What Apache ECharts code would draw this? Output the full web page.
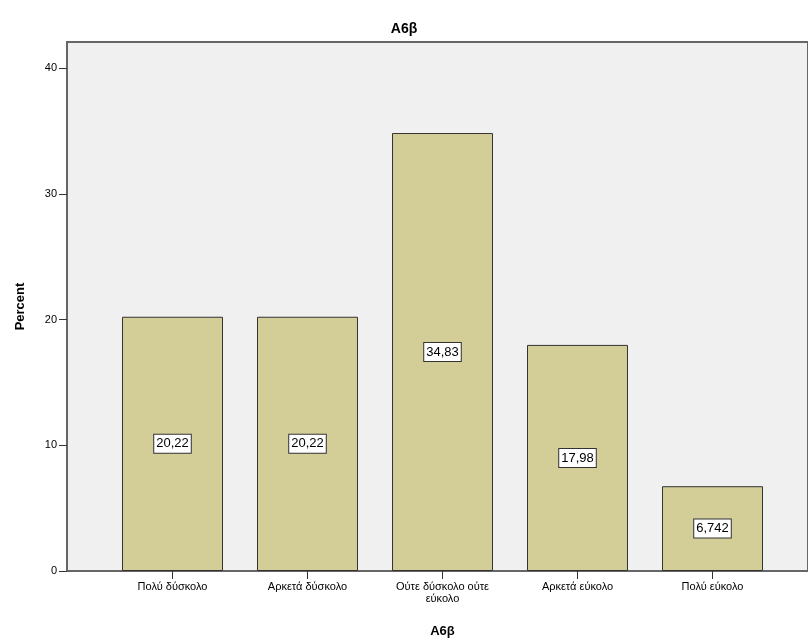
<!DOCTYPE html>
<html><head><meta charset="utf-8">
<script src="https://cdn.jsdelivr.net/npm/echarts@6/dist/echarts.min.js"></script>
<style>html,body{margin:0;padding:0;background:#fff}#c{width:808px;height:644px}</style>
</head><body><div id="c"></div>
<script>
const categories = ['Πολύ δύσκολο', 'Αρκετά δύσκολο', 'Ούτε δύσκολο ούτε\nεύκολο', 'Αρκετά εύκολο', 'Πολύ εύκολο'];
const percents = [20.22, 20.22, 34.83, 17.98, 6.742];
const yTicks = [0, 10, 20, 30, 40];

const FONT = 'Liberation Sans';
const chart = echarts.init(document.getElementById('c'));
const yMax = 42.07;
chart.setOption({
  animation: false,
  textStyle: { fontFamily: FONT },
  title: { text: 'A6β', left: 'center', top: 17, textStyle: { fontFamily: FONT, fontSize: 14, fontWeight: 'bold', color: '#000' } },
  grid: [
    { left: 105, right: 28, top: 42, bottom: 73 },
    { left: 67, right: -2, top: 42, bottom: 73, show: true, backgroundColor: '#f0f0f0', borderColor: '#666', borderWidth: 2, z: 0 }
  ],
  xAxis: [
    { gridIndex: 0, type: 'category', data: categories,
      axisLine: { show: false },
      axisTick: { show: true, alignWithLabel: true, length: 8, lineStyle: { color: '#333', width: 1 } },
      axisLabel: { color: '#000', fontSize: 11, fontFamily: FONT, margin: 10, interval: 0, lineHeight: 12 },
      name: 'A6β', nameLocation: 'middle', nameGap: 54,
      nameTextStyle: { fontFamily: FONT, fontSize: 13, fontWeight: 'bold', color: '#000' } },
    { gridIndex: 1, type: 'value', min: 0, max: 1, show: false }
  ],
  yAxis: [
    { gridIndex: 0, type: 'value', min: 0, max: yMax, show: false },
    { gridIndex: 1, type: 'value', min: 0, max: yMax, interval: 10,
      axisLine: { show: true, lineStyle: { color: '#666', width: 2 } },
      axisTick: { show: true, inside: false, length: 8, lineStyle: { color: '#333', width: 1 } },
      splitLine: { show: false },
      axisLabel: { color: '#000', fontSize: 11, fontFamily: FONT, margin: 10, showMaxLabel: false,
        formatter: v => yTicks.includes(v) ? String(v) : '' },
      name: 'Percent', nameLocation: 'middle', nameGap: 40,
      nameTextStyle: { fontFamily: FONT, fontSize: 13, fontWeight: 'bold', color: '#000' } }
  ],
  series: [{
    type: 'bar', xAxisIndex: 0, yAxisIndex: 0, data: percents, barWidth: 101, z: 5,
    itemStyle: { color: '#d3ce98', borderColor: '#333', borderWidth: 1 },
    label: { show: true, position: 'inside', color: '#000', fontSize: 13, fontFamily: FONT,
      backgroundColor: '#fff', borderColor: '#333', borderWidth: 1, padding: [3, 2, 2, 2],
      formatter: p => String(p.value).replace('.', ',') }
  }]
});
</script></body></html>
